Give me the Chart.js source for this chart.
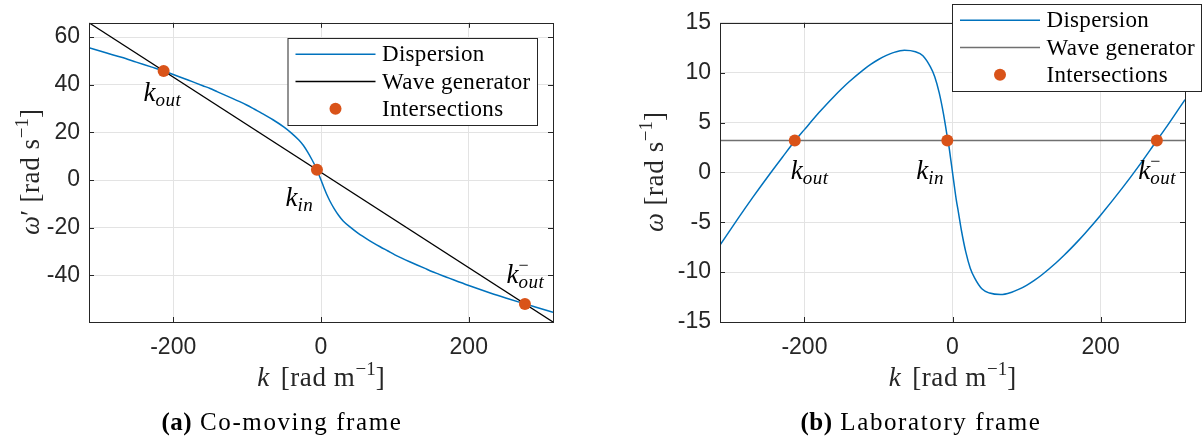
<!DOCTYPE html>
<html><head><meta charset="utf-8">
<script src="https://cdn.jsdelivr.net/npm/chart.js@4"></script>
<style>
html,body{margin:0;padding:0;background:#fff;width:1203px;height:438px;overflow:hidden}
#a{position:absolute;left:0;top:0}
#b{position:absolute;left:600px;top:0}
</style></head><body>
<canvas id="a" width="600" height="438"></canvas>
<canvas id="b" width="603" height="438"></canvas>
<script>
// ---- data ----
const kGrid = [-314,-290,-270,-250,-230,-213,-200,-180,-170,-160,-150,-140,-120,-110,-100,-90,-80,-65,-50,-40,-30,-24,-18,-12,-8,-5,-2,0,2,5,8,12,18,24,30,40,50,65,80,90,100,110,120,140,150,160,170,180,200,230,250,276,290,314];
const omegaComoving = [55.5,53.3,51.5,49.5,47.5,45.8,44.3,42.0,40.8,39.6,38.4,37.0,34.3,32.9,31.4,29.7,28.0,25.3,22.2,19.7,16.8,14.6,11.7,8.4,6.0,3.9,1.6,0,-1.6,-4.0,-6.2,-8.8,-12.1,-14.9,-17.2,-19.9,-22.3,-25.3,-28.0,-29.7,-31.4,-32.9,-34.3,-37.0,-38.4,-39.6,-40.8,-42.0,-44.3,-47.5,-49.5,-52.0,-53.3,-55.5];
const omegaLab = [-7.3,-4.66,-2.53,-0.48,1.5,3.15,4.29,6.02,6.84,7.62,8.36,9.06,10.31,10.85,11.32,11.71,12.01,12.25,12.1,11.7,10.6,9.6,8.0,5.8,4.0,2.7,1.1,0,-1.1,-2.7,-4.0,-5.8,-8.0,-9.6,-10.6,-11.7,-12.1,-12.25,-12.01,-11.71,-11.32,-10.85,-10.31,-9.06,-8.36,-7.62,-6.84,-6.02,-4.29,-1.5,0.48,3.2,4.66,7.3];
const generatorK = [-314, 314];
const generatorComoving = [66, -59.6];
const generatorLab = [3.2, 3.2];
const intersectionKComoving = [-213, -5.5, 276];
const intersectionKLab = [-213, -7, 276];
const intersectionComoving = [45.8, 4.3, -52.0];
const intersectionLab = [3.2, 3.2, 3.2];
const xTicks = [-200, 0, 200];
const yTicksComoving = [-40, -20, 0, 20, 40, 60];
const yTicksLab = [-15, -10, -5, 0, 5, 10, 15];
const legendLabels = ['Dispersion', 'Wave generator', 'Intersections'];
const intersectionSub = ['out', 'in', 'out'];
const intersectionSup = ['', '', '\u2212'];

// ---- styling ----
const SANS = '"Liberation Sans", Arial, Helvetica, sans-serif';
const SERIF = '"Liberation Serif", "Times New Roman", serif';
const BLUE = '#0072BD', ORANGE = '#D95319', AXIS = '#262626', GRID = '#e3e3e3';

function pts(xs, ys){ return xs.map((x, i) => ({x: x, y: ys[i]})); }
function setSpacing(ctx, s){ if ('letterSpacing' in ctx) ctx.letterSpacing = (s || 0) + 'px'; }
function drawRich(ctx, parts, x, y){
  let cx = x;
  for (const p of parts){
    ctx.font = p.font; setSpacing(ctx, p.ls);
    ctx.fillText(p.t, cx, y + (p.dy || 0));
    if (!p.noAdvance) cx += ctx.measureText(p.t).width + (p.gap || 0);
  }
  setSpacing(ctx, 0);
  return cx;
}
function richWidth(ctx, parts){
  let w = 0;
  for (const p of parts){ ctx.font = p.font; setSpacing(ctx, p.ls); if (!p.noAdvance) w += ctx.measureText(p.t).width + (p.gap || 0); }
  setSpacing(ctx, 0);
  return w;
}

function makeChart(id, cfg){
  const decor = {
    id: 'decor',
    afterDatasetsDraw(chart){
      const ctx = chart.ctx, a = chart.chartArea, x = chart.scales.x, y = chart.scales.y;
      ctx.save();
      // frame and inward ticks
      ctx.strokeStyle = AXIS; ctx.lineWidth = 1;
      ctx.beginPath();
      for (const v of xTicks){
        const px = Math.round(x.getPixelForValue(v)) + 0.5;
        ctx.moveTo(px, a.bottom); ctx.lineTo(px, a.bottom - 5);
        ctx.moveTo(px, a.top); ctx.lineTo(px, a.top + 5);
      }
      for (const v of cfg.yTicks){
        const py = Math.round(y.getPixelForValue(v)) + 0.5;
        ctx.moveTo(a.left, py); ctx.lineTo(a.left + 5, py);
        ctx.moveTo(a.right, py); ctx.lineTo(a.right - 5, py);
      }
      ctx.stroke();
      ctx.strokeRect(Math.round(a.left) + 0.5, Math.round(a.top) + 0.5, Math.round(a.right - a.left), Math.round(a.bottom - a.top));

      // intersection labels
      ctx.fillStyle = '#000';
      ctx.textBaseline = 'alphabetic'; ctx.textAlign = 'left';
      for (let i = 0; i < cfg.ik.length; i++){
        const px = x.getPixelForValue(cfg.ik[i]) + cfg.labelOffsets[i][0];
        const py = y.getPixelForValue(cfg.iv[i]) + cfg.labelOffsets[i][1];
        const parts = [{t: 'k', font: 'italic 27px ' + SERIF, gap: 0}];
        if (intersectionSup[i]) parts.push({t: intersectionSup[i], font: '18px ' + SERIF, dy: -12, noAdvance: true});
        parts.push({t: intersectionSub[i], font: 'italic 19px ' + SERIF, dy: 5, ls: 0.5});
        drawRich(ctx, parts, px, py);
      }

      // legend
      const L = cfg.legend;
      ctx.fillStyle = '#fff';
      ctx.fillRect(L.x, L.y, L.w, L.h);
      ctx.strokeStyle = AXIS; ctx.lineWidth = 1;
      ctx.strokeRect(L.x + 0.5, L.y + 0.5, L.w, L.h);
      const rows = [16.3, 43.5, 70.8];
      const ds = chart.data.datasets;
      for (let r = 0; r < 3; r++){
        const ry = L.y + rows[r];
        if (r < 2){
          ctx.strokeStyle = ds[r].borderColor; ctx.lineWidth = ds[r].borderWidth;
          ctx.beginPath(); ctx.moveTo(L.x + 8, ry); ctx.lineTo(L.x + 88, ry); ctx.stroke();
        } else {
          ctx.fillStyle = ORANGE;
          ctx.beginPath(); ctx.arc(L.x + 48, ry, 6, 0, Math.PI * 2); ctx.fill();
        }
        ctx.fillStyle = '#000';
        ctx.font = '23px ' + SERIF;
        setSpacing(ctx, 0.3);
        ctx.textBaseline = 'middle';
        ctx.fillText(legendLabels[r], L.x + 94.5, ry + 1);
        setSpacing(ctx, 0);
      }

      // axis titles
      ctx.fillStyle = '#262626';
      ctx.textBaseline = 'alphabetic';
      const xt = [
        {t: 'k', font: 'italic 27px ' + SERIF, gap: 4},
        {t: ' [rad m', font: '27px ' + SERIF, ls: 0.6},
        {t: '\u22121', font: '19px ' + SERIF, dy: -11},
        {t: ']', font: '27px ' + SERIF}
      ];
      const cxm = (a.left + a.right) / 2;
      drawRich(ctx, xt, cxm - richWidth(ctx, xt) / 2, 386);

      const yt = [
        {t: cfg.yName, font: 'italic 27px ' + SERIF},
        {t: cfg.yPrime, font: '27px ' + SERIF},
        {t: ' [rad s', font: '27px ' + SERIF, ls: 0.6},
        {t: '\u22121', font: '19px ' + SERIF, dy: -11},
        {t: ']', font: '27px ' + SERIF}
      ];
      ctx.save();
      ctx.translate(cfg.yTitleX, 172);
      ctx.rotate(-Math.PI / 2);
      drawRich(ctx, yt, -richWidth(ctx, yt) / 2, 0);
      ctx.restore();

      // caption
      ctx.fillStyle = '#000';
      const cap = [
        {t: cfg.capLetter, font: 'bold 25px ' + SERIF, ls: 0.5},
        {t: ' ' + cfg.capText, font: '25px ' + SERIF, ls: 1.6}
      ];
      drawRich(ctx, cap, cfg.capX - richWidth(ctx, cap) / 2, 430);
      ctx.restore();
    }
  };

  return new Chart(document.getElementById(id), {
    type: 'scatter',
    data: {
      datasets: [
        {label: legendLabels[0], data: pts(kGrid, cfg.disp), showLine: true, borderColor: BLUE, borderWidth: 1.5, pointRadius: 0, cubicInterpolationMode: 'monotone', order: 3},
        {label: legendLabels[1], data: pts(generatorK, cfg.gen), showLine: true, borderColor: cfg.genColor, borderWidth: 1.3, pointRadius: 0, order: 2},
        {label: legendLabels[2], data: pts(cfg.ik, cfg.iv), showLine: false, backgroundColor: ORANGE, borderColor: ORANGE, pointRadius: 6, pointBorderWidth: 0, order: 1, clip: false}
      ]
    },
    options: {
      responsive: false, animation: false, devicePixelRatio: 1,
      layout: {padding: cfg.padding},
      plugins: {legend: {display: false}, tooltip: {enabled: false}},
      scales: {
        x: {
          type: 'linear', min: -314, max: 314,
          afterBuildTicks: s => { s.ticks = xTicks.map(v => ({value: v})); },
          afterFit: s => { s.height = cfg.xHeight; },
          grid: {color: GRID, lineWidth: 1, drawTicks: false},
          border: {display: false},
          ticks: {color: AXIS, font: {family: SANS, size: 23}, padding: 12, maxRotation: 0, callback: v => String(v)}
        },
        y: {
          type: 'linear', min: cfg.ymin, max: cfg.ymax,
          afterBuildTicks: s => { s.ticks = cfg.yTicks.map(v => ({value: v})); },
          afterFit: s => { s.width = cfg.yWidth; },
          grid: {color: GRID, lineWidth: 1, drawTicks: false},
          border: {display: false},
          ticks: {color: AXIS, font: {family: SANS, size: 23}, padding: 9, callback: v => String(v)}
        }
      }
    },
    plugins: [decor]
  });
}

makeChart('a', {
  disp: omegaComoving, gen: generatorComoving, genColor: '#000000',
  ik: intersectionKComoving, iv: intersectionComoving,
  ymin: -59.6, ymax: 66, yTicks: yTicksComoving,
  padding: {top: 22, right: 47, left: 0, bottom: 0}, yWidth: 89, xHeight: 116,
  labelOffsets: [[-20, 30], [-31.5, 36], [-18.5, -21]],
  legend: {x: 287.5, y: 38, w: 249.5, h: 87},
  yName: '\u03c9', yPrime: '\u2032', yTitleX: 39,
  capLetter: '(a)', capText: 'Co-moving frame', capX: 282
});
makeChart('b', {
  disp: omegaLab, gen: generatorLab, genColor: '#707070',
  ik: intersectionKLab, iv: intersectionLab,
  ymin: -15, ymax: 15, yTicks: yTicksLab,
  padding: {top: 22, right: 18, left: 0, bottom: 0}, yWidth: 120, xHeight: 116,
  labelOffsets: [[-4, 39], [-31, 39], [-18.5, 38.5]],
  legend: {x: 352, y: 4, w: 249, h: 87},
  yName: '\u03c9', yPrime: '', yTitleX: 63,
  capLetter: '(b)', capText: 'Laboratory frame', capX: 321
});
</script>
</body></html>
